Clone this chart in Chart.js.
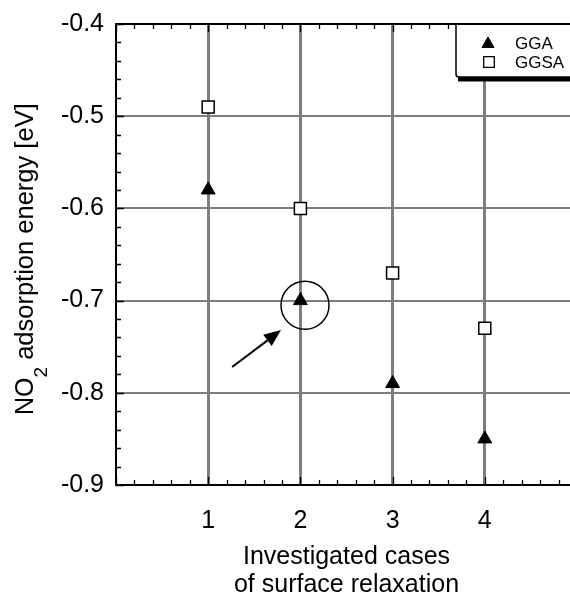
<!DOCTYPE html>
<html><head><meta charset="utf-8">
<script src="https://cdn.jsdelivr.net/npm/chart.js@4.4.1/dist/chart.umd.min.js"></script>
<style>
html,body{margin:0;padding:0;background:#fff;overflow:hidden;}
#wrap{position:absolute;left:0;top:0;width:620px;height:599px;}
</style></head><body>
<div id="wrap"><canvas id="c" width="620" height="599"></canvas></div>
<script>
// ---- data ----
const cases = [1, 2, 3, 4];
const ggaValues = [-0.58, -0.70, -0.79, -0.85];
const ggsaValues = [-0.49, -0.60, -0.67, -0.73];
const seriesNames = ['GGA', 'GGSA'];
const xTicks = [1, 2, 3, 4];
const yTicks = [-0.9, -0.8, -0.7, -0.6, -0.5, -0.4];
const xTitle = ['Investigated cases', 'of surface relaxation'];
const yTitleParts = ['NO', '2', ' adsorption energy [eV]'];
// annotation (data units): circle around case 2 GGA point, arrow pointing at it
const circleCenter = {x: 2.05, y: -0.705};
const arrowTail = {x: 1.26, y: -0.772};
const arrowTip = {x: 1.79, y: -0.732};

const FONT = '"Liberation Sans", Arial, Helvetica, sans-serif';
const GRID = '#7d7d7d';

const frame = {
  id: 'frame',
  afterDraw(chart) {
    const ctx = chart.ctx, xs = chart.scales.x, ys = chart.scales.y, a = chart.chartArea;
    ctx.save();
    // top border
    ctx.strokeStyle = '#000'; ctx.lineWidth = 2;
    ctx.beginPath(); ctx.moveTo(a.left - 1, a.top); ctx.lineTo(a.right + 1, a.top); ctx.stroke();
    // inward tick marks
    ctx.lineWidth = 1.3;
    ctx.beginPath();
    for (let i = 0; i <= 25; i++) {
      const v = xs.min + i * 0.2;
      const px = Math.round(xs.getPixelForValue(v)) + 0.5;
      const len = (i % 5 === 0) ? 8 : 5;
      ctx.moveTo(px, a.bottom); ctx.lineTo(px, a.bottom - len);
      ctx.moveTo(px, a.top); ctx.lineTo(px, a.top + len);
    }
    for (let i = 0; i <= 25; i++) {
      const v = ys.min + i * 0.02;
      const py = Math.round(ys.getPixelForValue(v)) + 0.5;
      const len = (i % 5 === 0) ? 8 : 5;
      ctx.moveTo(a.left, py); ctx.lineTo(a.left + len, py);
    }
    ctx.stroke();

    // circle annotation
    ctx.lineWidth = 1.5;
    ctx.beginPath();
    ctx.arc(xs.getPixelForValue(circleCenter.x), ys.getPixelForValue(circleCenter.y), 24, 0, Math.PI * 2);
    ctx.stroke();
    // arrow
    const tx = xs.getPixelForValue(arrowTail.x), ty = ys.getPixelForValue(arrowTail.y);
    const hx = xs.getPixelForValue(arrowTip.x), hy = ys.getPixelForValue(arrowTip.y);
    const ang = Math.atan2(hy - ty, hx - tx);
    const hl = 17, hw = 7;
    const bx = hx - hl * Math.cos(ang), by = hy - hl * Math.sin(ang);
    ctx.lineWidth = 2;
    ctx.beginPath(); ctx.moveTo(tx, ty); ctx.lineTo(bx, by); ctx.stroke();
    ctx.fillStyle = '#000';
    ctx.beginPath();
    ctx.moveTo(hx, hy);
    ctx.lineTo(bx + hw * Math.sin(ang), by - hw * Math.cos(ang));
    ctx.lineTo(bx - hw * Math.sin(ang), by + hw * Math.cos(ang));
    ctx.closePath(); ctx.fill();

    // legend box
    const L = 456, T = a.top, B = T + 53;
    ctx.fillStyle = '#fff';
    ctx.fillRect(L, T + 1, chart.width - L, B - T - 1);
    ctx.strokeStyle = '#000'; ctx.lineWidth = 1.5;
    ctx.beginPath(); ctx.moveTo(L, T); ctx.lineTo(L, B - 3); ctx.quadraticCurveTo(L, B, L + 3, B); ctx.lineTo(chart.width, B); ctx.stroke();
    ctx.fillStyle = '#000';
    ctx.fillRect(L + 2, B, chart.width - L, 4.5);
    // legend entries
    const rows = [T + 19, T + 38];
    chart.data.datasets.forEach((ds, i) => {
      ctx.fillStyle = ds.backgroundColor; ctx.strokeStyle = ds.borderColor;
      if (ds.pointStyle === 'triangle') {
        ctx.lineWidth = 1;
        Chart.helpers.drawPoint(ctx, {pointStyle: 'triangle', radius: 7, borderWidth: 1}, 488, rows[i] + 1);
      } else {
        ctx.lineWidth = 1.3;
        Chart.helpers.drawPoint(ctx, {pointStyle: 'rect', radius: 7.5, borderWidth: 1.3}, 489, rows[i]);
      }
      ctx.fillStyle = '#000';
      ctx.font = '17px ' + FONT;
      ctx.textBaseline = 'middle'; ctx.textAlign = 'left';
      ctx.fillText(ds.label, 515, rows[i] + 1);
    });

    // y title with subscript
    ctx.save();
    ctx.translate(33, 415);
    ctx.rotate(-Math.PI / 2);
    ctx.fillStyle = '#000';
    ctx.textBaseline = 'alphabetic'; ctx.textAlign = 'left';
    ctx.font = '25px ' + FONT;
    ctx.fillText(yTitleParts[0], 0, 0);
    let w = ctx.measureText(yTitleParts[0]).width;
    ctx.font = '19px ' + FONT;
    ctx.fillText(yTitleParts[1], w, 14);
    w += ctx.measureText(yTitleParts[1]).width;
    ctx.font = '25.5px ' + FONT;
    ctx.fillText(yTitleParts[2], w, 0);
    ctx.restore();
    ctx.restore();
  }
};

new Chart(document.getElementById('c'), {
  type: 'scatter',
  data: {
    datasets: [
      {
        label: seriesNames[0],
        data: cases.map((c, i) => ({x: c, y: ggaValues[i]})),
        pointStyle: 'triangle', pointRadius: 8, backgroundColor: '#000', borderColor: '#000', borderWidth: 1
      },
      {
        label: seriesNames[1],
        data: cases.map((c, i) => ({x: c, y: ggsaValues[i]})),
        pointStyle: 'rect', pointRadius: 8.5, backgroundColor: '#fff', borderColor: '#000', borderWidth: 1.5
      }
    ]
  },
  options: {
    responsive: false, animation: false,
    devicePixelRatio: 1,
    layout: {padding: {left: 0, right: 43, top: 24, bottom: 0}},
    plugins: {legend: {display: false}, tooltip: {enabled: false}},
    scales: {
      x: {
        type: 'linear', min: 0, max: 5,
        afterBuildTicks: s => { s.ticks = xTicks.map(v => ({value: v})); },
        afterFit: s => { s.height = 114; },
        ticks: {font: {family: FONT, size: 25}, color: '#000', padding: 21, maxRotation: 0},
        grid: {color: GRID, lineWidth: 3, drawTicks: false},
        border: {display: true, color: '#000', width: 2},
        title: {display: true, text: xTitle, color: '#000', font: {family: FONT, size: 25, lineHeight: 1.12}, padding: {top: 0, bottom: 0}}
      },
      y: {
        type: 'linear', min: -0.9, max: -0.4,
        afterBuildTicks: s => { s.ticks = yTicks.map(v => ({value: v})); },
        afterFit: s => { s.width = 116; s.paddingTop = 0; s.paddingBottom = 0; },
        ticks: {font: {family: FONT, size: 25, lineHeight: 1}, color: '#000', padding: 12, callback: v => v.toFixed(1)},
        grid: {
          color: c => (c.tick && c.tick.value > -0.89 && c.tick.value < -0.41) ? GRID : 'rgba(0,0,0,0)',
          lineWidth: 2, drawTicks: false
        },
        border: {display: true, color: '#000', width: 2}
      }
    }
  },
  plugins: [frame]
});
</script>
</body></html>
